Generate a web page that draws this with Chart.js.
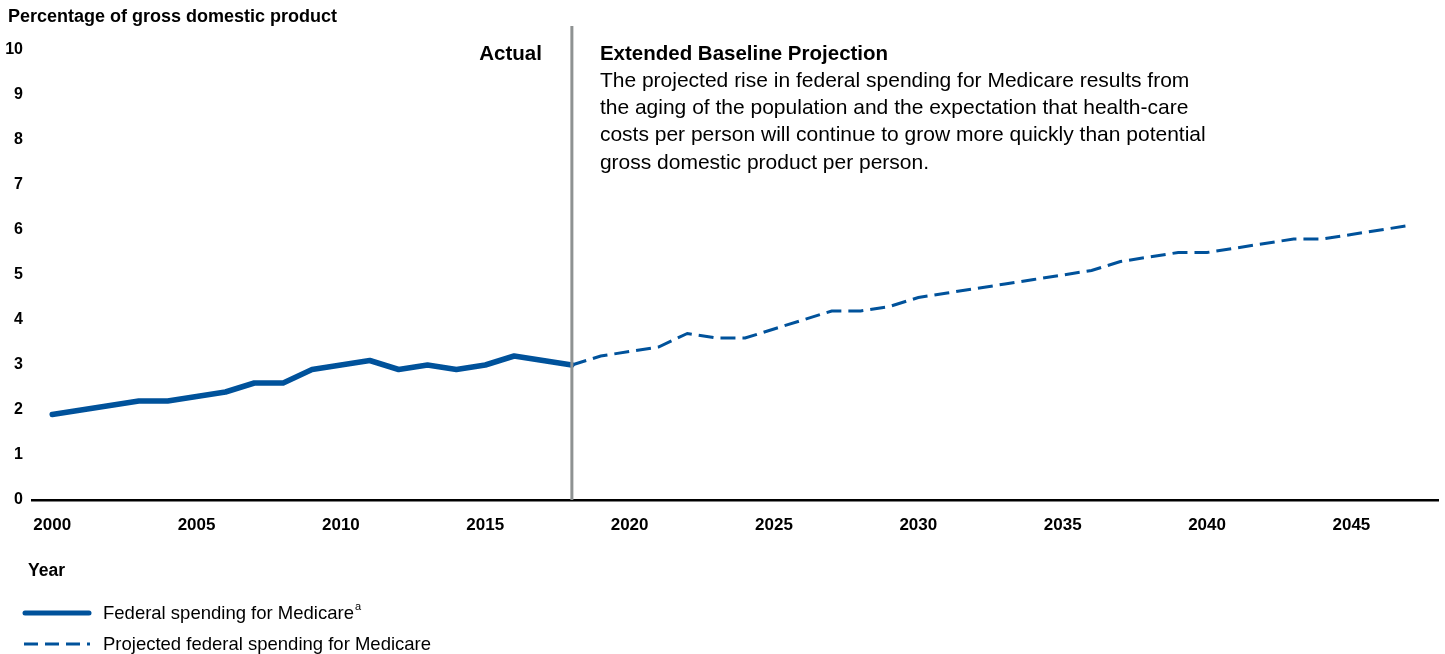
<!DOCTYPE html>
<html>
<head>
<meta charset="utf-8">
<script src="https://cdn.jsdelivr.net/npm/chart.js@4/dist/chart.umd.min.js"></script>
<style>
  html, body { margin: 0; padding: 0; background: #fff; }
  #wrap { position: relative; width: 1445px; height: 654px; }
</style>
</head>
<body>
<div id="wrap"><canvas id="medicareChart" width="1445" height="654"></canvas></div>
<script>
/* ===== Datos ===== */
const actualYears = [2000, 2001, 2002, 2003, 2004, 2005, 2006, 2007, 2008, 2009,
    2010, 2011, 2012, 2013, 2014, 2015, 2016, 2017, 2018];
const actualValues = [1.9, 2.0, 2.1, 2.2, 2.2, 2.3, 2.4, 2.6, 2.6, 2.9,
    3.0, 3.1, 2.9, 3.0, 2.9, 3.0, 3.2, 3.1, 3.0];

const projectedYears = [2018, 2019, 2020, 2021, 2022, 2023, 2024, 2025, 2026, 2027,
    2028, 2029, 2030, 2031, 2032, 2033, 2034, 2035, 2036, 2037,
    2038, 2039, 2040, 2041, 2042, 2043, 2044, 2045, 2046, 2047];
const projectedValues = [3.0, 3.2, 3.3, 3.4, 3.7, 3.6, 3.6, 3.8, 4.0, 4.2,
    4.2, 4.3, 4.5, 4.6, 4.7, 4.8, 4.9, 5.0, 5.1, 5.3,
    5.4, 5.5, 5.5, 5.6, 5.7, 5.8, 5.8, 5.9, 6.0, 6.1];

const xTickLabels = [2000, 2005, 2010, 2015, 2020, 2025, 2030, 2035, 2040, 2045];
const yTickLabels = [0, 1, 2, 3, 4, 5, 6, 7, 8, 9, 10];
const dividerYear = 2018;

const seriesNames = ['Federal spending for Medicare', 'Projected federal spending for Medicare'];
const yAxisTitle = 'Percentage of gross domestic product';
const xAxisTitle = 'Year';
const actualLabel = 'Actual';
const projectionTitle = 'Extended Baseline Projection';
const projectionText = [
    'The projected rise in federal spending for Medicare results from',
    'the aging of the population and the expectation that health-care',
    'costs per person will continue to grow more quickly than potential',
    'gross domestic product per person.'
];

const BLUE = '#00529b';
const FONT = '"Liberation Sans", Arial, sans-serif';

function toPoints(xs, ys) {
    return xs.map((x, i) => ({ x: x, y: ys[i] }));
}

// Textos, línea divisoria y leyenda
const annotations = {
    id: 'annotations',
    afterDatasetsDraw(chart) {
        const ctx = chart.ctx;
        const area = chart.chartArea;
        const divX = chart.scales.x.getPixelForValue(dividerYear);

        ctx.save();
        // línea vertical gris
        ctx.strokeStyle = '#8e9292';
        ctx.lineWidth = 3;
        ctx.beginPath();
        ctx.moveTo(divX, 26);
        ctx.lineTo(divX, area.bottom);
        ctx.stroke();

        ctx.fillStyle = '#000';
        ctx.textBaseline = 'middle';

        ctx.font = 'bold 18px ' + FONT;
        ctx.textAlign = 'left';
        ctx.fillText(yAxisTitle, 8, 17);

        ctx.font = 'bold 20.5px ' + FONT;
        ctx.textAlign = 'right';
        ctx.fillText(actualLabel, divX - 30, 54);
        ctx.textAlign = 'left';
        ctx.fillText(projectionTitle, divX + 28, 54);

        ctx.font = '21px ' + FONT;
        projectionText.forEach((line, i) => {
            ctx.fillText(line, divX + 28, 81 + i * 27.3);
        });

        ctx.font = 'bold 17.5px ' + FONT;
        ctx.fillText(xAxisTitle, 28, 571);

        // leyenda
        ctx.strokeStyle = BLUE;
        ctx.lineCap = 'round';
        ctx.lineWidth = 5;
        ctx.beginPath();
        ctx.moveTo(25, 613);
        ctx.lineTo(89, 613);
        ctx.stroke();

        ctx.lineCap = 'butt';
        ctx.lineWidth = 3;
        ctx.setLineDash([14, 7]);
        ctx.beginPath();
        ctx.moveTo(24, 644);
        ctx.lineTo(90, 644);
        ctx.stroke();
        ctx.setLineDash([]);

        ctx.font = '18.5px ' + FONT;
        ctx.fillText(seriesNames[0], 103, 614);
        const w = ctx.measureText(seriesNames[0]).width;
        ctx.font = '11px ' + FONT;
        ctx.fillText('a', 103 + w + 1, 607);
        ctx.font = '18.5px ' + FONT;
        ctx.fillText(seriesNames[1], 103, 645);
        ctx.restore();
    }
};

new Chart(document.getElementById('medicareChart'), {
    type: 'line',
    data: {
        datasets: [{
            label: seriesNames[0],
            data: toPoints(actualYears, actualValues),
            borderColor: BLUE,
            borderWidth: 5.5,
            pointRadius: 0,
            tension: 0,
            borderJoinStyle: 'round',
            borderCapStyle: 'round'
        }, {
            label: seriesNames[1],
            data: toPoints(projectedYears, projectedValues),
            borderColor: BLUE,
            borderWidth: 3,
            borderDash: [15, 7],
            pointRadius: 0,
            tension: 0
        }]
    },
    options: {
        responsive: false,
        animation: false,
        devicePixelRatio: 1,
        layout: { padding: { top: 50, left: 0, right: 7, bottom: 0 } },
        plugins: {
            legend: { display: false },
            tooltip: { enabled: false }
        },
        scales: {
            x: {
                type: 'linear',
                min: 1999.3,
                max: 2048,
                grid: { display: false, drawTicks: false },
                border: { display: true, color: '#000', width: 2.5 },
                afterBuildTicks: (scale) => {
                    scale.ticks = xTickLabels.map(v => ({ value: v }));
                },
                afterFit: (scale) => {
                    scale.height = 154;
                    scale.paddingLeft = 0;
                    scale.paddingRight = 0;
                },
                ticks: {
                    color: '#000',
                    font: { family: FONT, size: 17, weight: 'bold' },
                    padding: 15,
                    maxRotation: 0,
                    autoSkip: false,
                    callback: (v) => String(v)
                }
            },
            y: {
                min: 0,
                max: 10,
                grid: { display: false, drawTicks: false },
                border: { display: false },
                afterBuildTicks: (scale) => {
                    scale.ticks = yTickLabels.map(v => ({ value: v }));
                },
                afterFit: (scale) => {
                    scale.width = 32;
                    scale.paddingTop = 0;
                    scale.paddingBottom = 0;
                },
                ticks: {
                    color: '#000',
                    font: { family: FONT, size: 16, weight: 'bold' },
                    padding: 9,
                    autoSkip: false
                }
            }
        }
    },
    plugins: [annotations]
});
</script>
</body>
</html>
